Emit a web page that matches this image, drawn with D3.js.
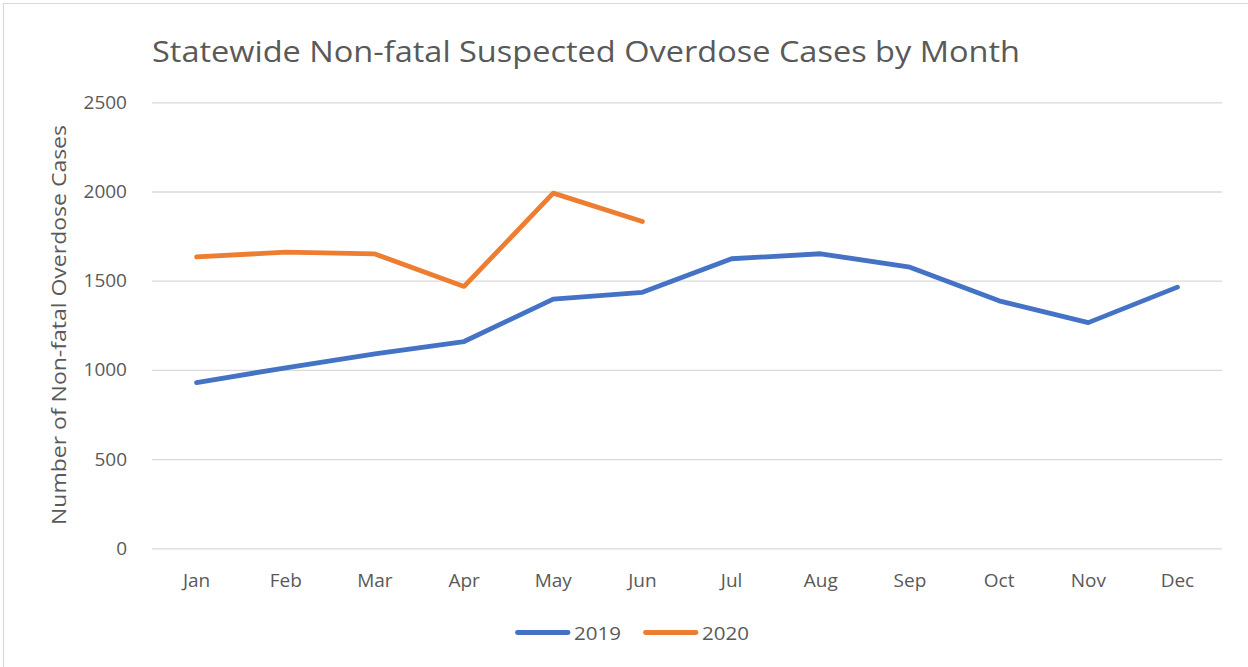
<!DOCTYPE html>
<html><head><meta charset="utf-8">
<script src="https://cdn.jsdelivr.net/npm/d3@7"></script>
<style>body{margin:0;background:#fff}svg{display:block}text{font-family:"Open Sans","Liberation Sans",sans-serif;fill:#595959}</style>
</head><body>
<svg id="c" width="1248" height="667"></svg>
<script>
const months = ["Jan","Feb","Mar","Apr","May","Jun","Jul","Aug","Sep","Oct","Nov","Dec"];
const values2019 = [929,1012,1090,1159,1397,1435,1623,1651,1576,1387,1265,1464];
const values2020 = [1633,1660,1650,1468,1991,1832];
const yTicks = [0,500,1000,1500,2000,2500];
const seriesNames = ["2019","2020"];
const colors = ["#4472C4","#ED7D31"];

const svg = d3.select("#c");
const m = {left:152, right:1222, top:102.3, bottom:548.3};
const x = d3.scaleBand().domain(months).range([m.left,m.right]);
const y = d3.scaleLinear().domain([0,2500]).range([m.bottom,m.top]);

// border
svg.append("path").attr("d","M3.5,667 V3.5 H1248").attr("fill","none").attr("stroke","#d9d9d9").attr("stroke-width",1.2);

// title
svg.append("text").attr("x",152).attr("y",62).attr("font-size",30)
  .attr("textLength",868).attr("lengthAdjust","spacingAndGlyphs")
  .text("Statewide Non-fatal Suspected Overdose Cases by Month");

// grid
const yAxis = d3.axisLeft(y).tickValues(yTicks).tickSize(-(m.right-m.left)).tickPadding(25).tickFormat(d3.format("d"));
const gy = svg.append("g").attr("transform",`translate(${m.left},0)`).call(yAxis);
gy.select(".domain").remove();
gy.selectAll("line").attr("stroke","#d9d9d9").attr("stroke-width",1.3);
gy.selectAll("text").attr("font-size",19).attr("fill","#595959").attr("font-family","'Open Sans',sans-serif");

const xAxis = d3.axisBottom(x).tickSize(0).tickPadding(25);
const gx = svg.append("g").attr("transform",`translate(0,${m.bottom})`).call(xAxis);
gx.select(".domain").remove();
gx.selectAll("text").attr("font-size",19).attr("fill","#595959").attr("font-family","'Open Sans',sans-serif");

// y axis title
svg.append("text").attr("transform",`translate(66,325) rotate(-90)`)
  .attr("text-anchor","middle").attr("font-size",20)
  .attr("textLength",400).attr("lengthAdjust","spacingAndGlyphs")
  .text("Number of Non-fatal Overdose Cases");

// lines
const line = d3.line().x((d,i)=>x(months[i])+x.bandwidth()/2).y(d=>y(d));
[values2019, values2020].forEach((vals,k)=>{
  svg.append("path").datum(vals).attr("d",line).attr("fill","none")
    .attr("stroke",colors[k]).attr("stroke-width",4.8).attr("stroke-linecap","round").attr("stroke-linejoin","round");
});

// legend
const legX = [515, 643];
seriesNames.forEach((n,k)=>{
  svg.append("line").attr("x1",legX[k]+2.5).attr("x2",legX[k]+53).attr("y1",632.5).attr("y2",632.5)
    .attr("stroke",colors[k]).attr("stroke-width",4.8).attr("stroke-linecap","round");
  svg.append("text").attr("x",legX[k]+59).attr("y",639.5).attr("font-size",19)
    .attr("textLength",47).attr("lengthAdjust","spacingAndGlyphs").text(n);
});
</script>
</body></html>
